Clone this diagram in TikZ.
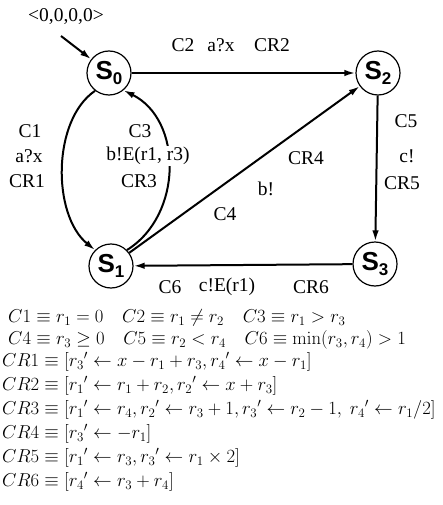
\documentclass[tikz,border=0pt]{standalone}
\usepackage{graphicx}
\usepackage[no-math]{fontspec}
\setmainfont{Liberation Serif}
\newfontfamily\hv{Liberation Sans}
\usetikzlibrary{arrows.meta}
\newcommand{\eqsc}[1]{\scalebox{1.08}{#1}}
\begin{document}
\begin{tikzpicture}[x=1pt,y=-1pt,
  state/.style={circle,draw,line width=1.2pt,minimum size=44pt,inner sep=0pt,font=\hv\bfseries\fontsize{26}{26}\selectfont},
  lbl/.style={font=\fontsize{19.5}{19.5}\selectfont,inner sep=1pt,fill=white},
  edge/.style={line width=2pt,-{Latex[length=11pt,width=6.5pt]}},
  eq/.style={anchor=west,inner sep=0pt,font=\fontsize{17.28}{19}\selectfont}]
\useasboundingbox (0,0) rectangle (443,505);
\newcommand{\sub}[1]{\raisebox{-5pt}{\fontsize{17}{17}\selectfont #1}}
\node[state] (S0) at (109,73) {S\sub{0}};
\node[state] (S2) at (378,73) {S\sub{2}};
\node[state] (S1) at (111,266) {S\sub{1}};
\node[state] (S3) at (375,264) {S\sub{3}};
\coordinate (init) at (61,36);
\draw[edge] (init) -- (S0);
\draw[edge] (S0) -- (S2);
\draw[edge] (S2) -- (S3);
\draw[edge] (S3) -- (S1);
\draw[edge] (S1) -- (S2);
\draw[edge] (S0.232) .. controls (52,120) and (52,215) .. (S1.135);
\draw[edge] (S1.45) .. controls (183,215) and (183,120) .. (S0.-50);
% labels
\node[lbl] (initlbl) at (66,17) {<0,0,0,0>};
\node[lbl] (l2a) at (183,45) {C2};
\node[lbl] (l2b) at (221,45) {a?x};
\node[lbl] (l2c) at (272,45) {CR2};
\node[lbl] (l1a) at (30,131) {C1};
\node[lbl] (l1b) at (29,156) {a?x};
\node[lbl] (l1c) at (27,181) {CR1};
\node[lbl] (l3a) at (140,131) {C3};
\node[lbl] (l3b) at (148,156) {b!E(r1, r3)};
\node[lbl] (l3c) at (139,181) {CR3};
\node[lbl] (l5a) at (406,121) {C5};
\node[lbl] (l5b) at (407,156) {c!};
\node[lbl] (l5c) at (402,183) {CR5};
\node[lbl] (l4c) at (306,158) {CR4};
\node[lbl] (l4b) at (266,189) {b!};
\node[lbl] (l4a) at (225,214) {C4};
\node[lbl] (l6a) at (170,287) {C6};
\node[lbl] (l6b) at (227,287) {c!E(r1)};
\node[lbl] (l6c) at (311,287) {CR6};
% formulas
\node[eq] (f1) at (8,318) {\eqsc{$C1 \equiv r_1 = 0 \quad C2 \equiv r_1 \neq r_2 \quad C3 \equiv r_1 > r_3$}};
\node[eq] (f2) at (8,340) {\eqsc{$C4 \equiv r_3 \geq 0 \quad C5 \equiv r_2 < r_4 \quad C6 \equiv \min(r_3, r_4) > 1$}};
\node[eq] (f3) at (2,362) {\eqsc{$CR1 \equiv [{r_3}' \leftarrow x - r_1 + r_3, {r_4}' \leftarrow x - r_1]$}};
\node[eq] (f4) at (2,386) {\eqsc{$CR2 \equiv [{r_1}' \leftarrow r_1 + r_2, {r_2}' \leftarrow x + r_3]$}};
\node[eq] (f5) at (2,410) {\eqsc{$CR3 \equiv [{r_1}' \leftarrow r_4, {r_2}' \leftarrow r_3 + 1, {r_3}' \leftarrow r_2 - 1,\ {r_4}' \leftarrow r_1/2]$}};
\node[eq] (f6) at (2,434) {\eqsc{$CR4 \equiv [{r_3}' \leftarrow -r_1]$}};
\node[eq] (f7) at (2,458) {\eqsc{$CR5 \equiv [{r_1}' \leftarrow r_3, {r_3}' \leftarrow r_1 \times 2]$}};
\node[eq] (f8) at (2,482) {\eqsc{$CR6 \equiv [{r_4}' \leftarrow r_3 + r_4]$}};
\end{tikzpicture}
\end{document}
